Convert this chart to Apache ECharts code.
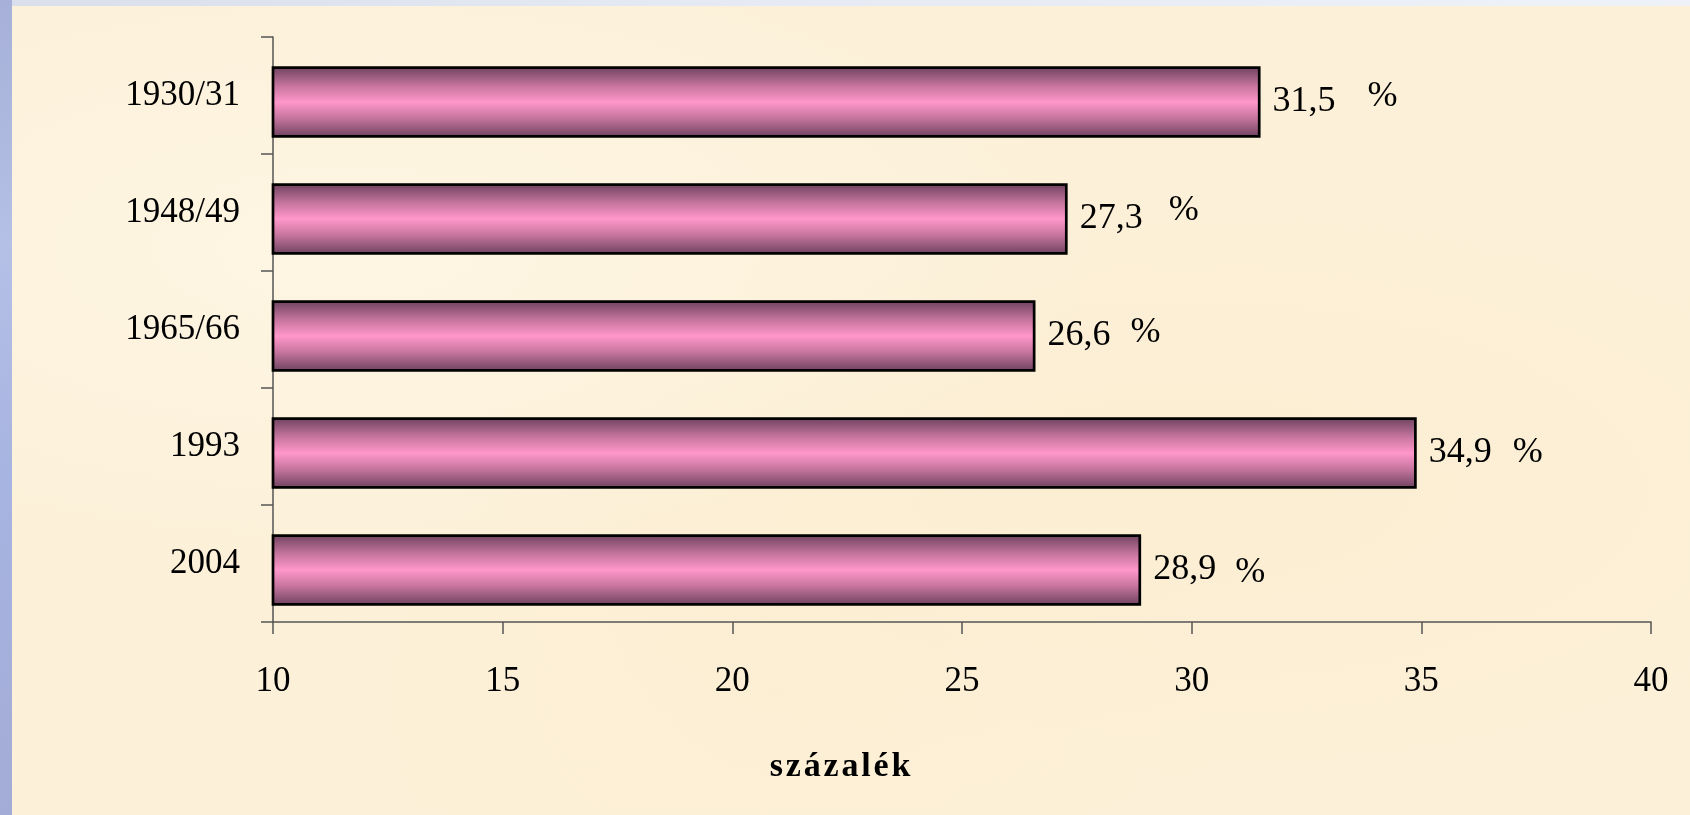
<!DOCTYPE html>
<html>
<head>
<meta charset="utf-8">
<title>százalék</title>
<script src="https://cdn.jsdelivr.net/npm/echarts@6/dist/echarts.min.js"></script>
<style>
    html, body { margin: 0; padding: 0; width: 100%; height: 100%; overflow: hidden; }
    body { background: linear-gradient(90deg, #d9dfeb 0%, #e4e9f3 40%, #eef2f8 100%); position: relative; }
    #strip { position: absolute; left: 0; top: 0; width: 12px; height: 100%;
        background: linear-gradient(180deg, #a6b0d8 0%, #b4c0e6 30%, #a7b3e0 60%, #a3acd6 100%); }
    #paper { position: absolute; left: 12px; top: 6px; right: 0; bottom: 0;
        background-color: #fcf0d8;
        background-image:
            radial-gradient(ellipse at 20% 30%, rgba(255, 248, 232, 0.7), rgba(255, 248, 232, 0) 40%),
            radial-gradient(ellipse at 70% 60%, rgba(250, 236, 206, 0.6), rgba(250, 236, 206, 0) 45%),
            radial-gradient(ellipse at 45% 85%, rgba(251, 238, 210, 0.6), rgba(251, 238, 210, 0) 35%); }
    #chart { position: absolute; left: 0; top: 0; width: 1690px; height: 815px; }
</style>
</head>
<body>
<div id="strip"></div>
<div id="paper"></div>
<div id="chart"></div>
<script>
    // adatok
    const categories = ['1930/31', '1948/49', '1965/66', '1993', '2004'];
    const values = [31.5, 27.3, 26.6, 34.9, 28.9];
    const xTicks = { min: 10, max: 40, interval: 5 };
    const axisName = 'százalék';

    // a "%" jel távolsága és emelése címkénként (px)
    const pctGap = [32, 26, 20, 21, 19];
    const pctRaise = [5, 8, 3, 0, -3];

    const font = "'Liberation Serif', 'Times New Roman', serif";

    const barColor = new echarts.graphic.LinearGradient(0, 0, 0, 1, [
        { offset: 0, color: '#6c405e' },
        { offset: 0.28, color: '#c8769f' },
        { offset: 0.5, color: '#ff97cb' },
        { offset: 0.72, color: '#c8769f' },
        { offset: 1, color: '#6c405e' }
    ]);

    const fmt = (v) => v.toFixed(1).replace('.', ',');

    let myChart = echarts.init(document.getElementById('chart'));
    myChart.setOption({
        animation: false,
        grid: {
            left: 273,
            right: 39,
            top: 37,
            bottom: 193,
            containLabel: false
        },
        xAxis: {
            type: 'value',
            min: xTicks.min,
            max: xTicks.max,
            interval: xTicks.interval,
            name: axisName.split('').join('\u200A'),
            nameLocation: 'middle',
            nameGap: 128,
            nameTextStyle: {
                fontFamily: font,
                fontSize: 34,
                fontWeight: 'bold',
                color: '#000',
                padding: [0, 244, 0, 0]
            },
            axisLine: { show: true, lineStyle: { color: '#555', width: 1.5 } },
            axisTick: { show: true, length: 12, lineStyle: { color: '#555', width: 1.5 } },
            splitLine: { show: false },
            axisLabel: {
                margin: 42,
                fontFamily: font,
                fontSize: 35,
                color: '#000'
            }
        },
        yAxis: {
            type: 'category',
            inverse: true,
            data: categories,
            axisLine: { show: true, lineStyle: { color: '#555', width: 1.5 } },
            axisTick: { show: true, length: 12, lineStyle: { color: '#555', width: 1.5 } },
            splitLine: { show: false },
            axisLabel: {
                margin: 33,
                fontFamily: font,
                fontSize: 35,
                color: '#000'
            }
        },
        series: [
            {
                // üres sor, csak a sávok lefelé tolásához
                name: 'spacer',
                type: 'bar',
                barWidth: 13,
                barGap: '0%',
                silent: true,
                itemStyle: { opacity: 0 },
                data: categories.map(() => '-')
            },
            {
                name: axisName,
                type: 'bar',
                barWidth: 71.5,
                barGap: '0%',
                itemStyle: {
                    color: barColor,
                    borderColor: '#000',
                    borderWidth: 2.7
                },
                label: {
                    show: true,
                    position: 'right',
                    distance: 12,
                    formatter: (p) => '{v|' + fmt(p.value) + '}{p|%}',
                    rich: {
                        v: { fontFamily: font, fontSize: 36, color: '#000' }
                    }
                },
                data: values.map((v, i) => {
                    const r = pctRaise[i];
                    return {
                        value: v,
                        label: {
                            rich: {
                                v: { fontFamily: font, fontSize: 36, color: '#000' },
                                p: {
                                    fontFamily: font,
                                    fontSize: 36,
                                    color: '#000',
                                    padding: r >= 0 ? [0, 0, 2 * r, pctGap[i]] : [-2 * r, 0, 0, pctGap[i]]
                                }
                            }
                        }
                    };
                })
            }
        ]
    });
    window.addEventListener('resize', () => {
        myChart.resize();
    });
</script>
</body>
</html>
